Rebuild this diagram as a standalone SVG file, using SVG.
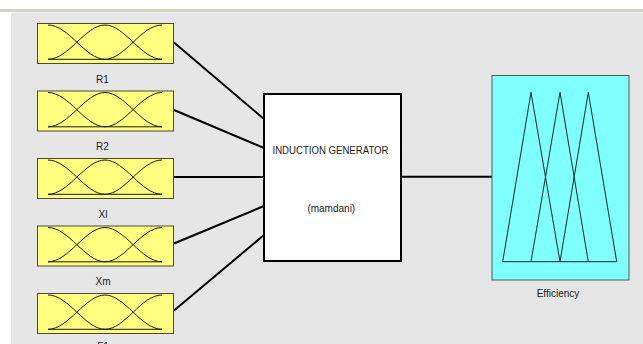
<svg xmlns="http://www.w3.org/2000/svg" xmlns:xlink="http://www.w3.org/1999/xlink" width="643" height="344" viewBox="0 0 643 344">
<style>
.inbox{fill:#ffff80;stroke:#4a4a3a;stroke-width:1}
.mf{fill:none;stroke:#1a1a10;stroke-width:1}
.lbl{font-family:"Liberation Sans",Arial,sans-serif;font-size:10px;fill:#1a1a1a;text-anchor:middle}
.conn{stroke:#000;stroke-width:2;fill:none}
.tri{fill:none;stroke:#0d2a2a;stroke-width:1}
</style>
<defs>
<g id="mfset">
<rect class="inbox" x="0.5" y="0.5" width="136" height="40"/>
<path class="mf" d="M11,2 C31.8,2 48.2,36.3 68,36.3"/>
<path class="mf" d="M11,36.3 C31.8,36.3 48.2,2 68,2 C87.8,2 104.2,36.3 125,36.3"/>
<path class="mf" d="M68,36.3 C87.8,36.3 104.2,2 125,2"/>
<path class="mf" d="M11,36.3 H125"/>
</g>
</defs>
<rect x="0" y="0" width="643" height="344" fill="#ffffff"/>
<rect x="0" y="9" width="643" height="3" fill="#d6d2c6"/>
<rect x="11" y="12" width="632" height="1" fill="#f6f6f6"/>
<rect x="11" y="13" width="632" height="331" fill="#e6e6e6"/>

<g id="connectors">
<line class="conn" x1="174" y1="42.5" x2="264" y2="119"/>
<line class="conn" x1="174" y1="110" x2="264" y2="148"/>
<line class="conn" x1="174" y1="177" x2="264" y2="177"/>
<line class="conn" x1="174" y1="243.5" x2="264" y2="206"/>
<line class="conn" x1="174" y1="310.5" x2="264" y2="235"/>
<line class="conn" x1="401" y1="176.7" x2="492" y2="176.7"/>
</g>

<g id="R1">
<use xlink:href="#mfset" transform="translate(37,23)"/>
<text class="lbl" x="102.5" y="83">R1</text>
</g>
<g id="R2">
<use xlink:href="#mfset" transform="translate(37,90.5)"/>
<text class="lbl" x="102.5" y="150">R2</text>
</g>
<g id="Xl">
<use xlink:href="#mfset" transform="translate(37,158)"/>
<text class="lbl" x="103" y="217.5">Xl</text>
</g>
<g id="Xm">
<use xlink:href="#mfset" transform="translate(37,225.5)"/>
<text class="lbl" x="103" y="285">Xm</text>
</g>
<g id="F1">
<use xlink:href="#mfset" transform="translate(37,293)"/>
<text class="lbl" x="103" y="349.5">F1</text>
</g>

<g id="system">
<rect x="264" y="94" width="137" height="167" fill="#ffffff" stroke="#000" stroke-width="2"/>
<text class="lbl" x="330.5" y="154" textLength="116" lengthAdjust="spacingAndGlyphs">INDUCTION GENERATOR</text>
<text class="lbl" x="331.3" y="211.5">(mamdani)</text>
</g>

<g id="Efficiency">
<rect x="492" y="75.5" width="137" height="204.5" fill="#80ffff" stroke="#4a5a5a" stroke-width="1"/>
<polyline class="tri" points="502.7,261.7 531,92.3 560,261.7"/>
<polyline class="tri" points="531,261.7 560,92.3 588.3,261.7"/>
<polyline class="tri" points="560,261.7 588.3,92.3 616.7,261.7"/>
<line class="tri" x1="502.7" y1="261.7" x2="616.7" y2="261.7"/>
<text class="lbl" x="558" y="297">Efficiency</text>
</g>
</svg>
